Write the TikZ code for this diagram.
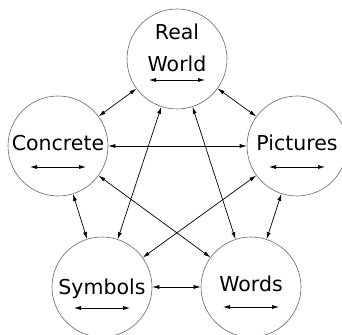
\documentclass[tikz,border=0pt]{standalone}
\usepackage{fontspec}
\setmainfont{DejaVu Sans}
\usepackage{tikz}
\usetikzlibrary{arrows.meta,calc,positioning}

\begin{document}
\begin{tikzpicture}[x=1pt,y=1pt,
  cerchio/.style={circle, draw=black!60, line width=0.6pt, minimum size=100pt, inner sep=0pt},
  freccia/.style={{Latex[length=7pt,width=4pt]}-{Latex[length=7pt,width=4pt]}, line width=0.7pt},
  testo/.style={font=\fontsize{20.5}{24}\selectfont, anchor=base, inner sep=0pt}]
\useasboundingbox (0,0) rectangle (342,334);
% Cerchi
\node[cerchio] (real) at (177,275) {};
\node[cerchio] (conc) at (58,188) {};
\node[cerchio] (pict) at (297,188) {};
\node[cerchio] (symb) at (102,47) {};
\node[cerchio] (word) at (251,47) {};
% Testi
\node[testo] (realtxt) at ($(real)+(0,19)$) {Real};
\node[testo] (worldtxt) at ($(real)+(0,-13)$) {World};
\node[testo] (conctxt) at ($(conc)+(0,-5)$) {Concrete};
\node[testo] (picttxt) at ($(pict)+(0,-5)$) {Pictures};
\node[testo] (symbtxt) at ($(symb)+(0,-8)$) {Symbols};
\node[testo] (wordtxt) at ($(word)+(0,-5)$) {Words};
% Frecce interne
\draw[freccia] ($(real)+(-28,-21)$) -- ($(real)+(28,-21)$);
\draw[freccia] ($(conc)+(-28,-21)$) -- ($(conc)+(28,-21)$);
\draw[freccia] ($(pict)+(-28,-21)$) -- ($(pict)+(28,-21)$);
\draw[freccia] ($(symb)+(-28,-21)$) -- ($(symb)+(28,-21)$);
\draw[freccia] ($(word)+(-28,-20)$) -- ($(word)+(28,-20)$);
% Collegamenti
\draw[freccia] (real) -- (conc);
\draw[freccia] (real) -- (pict);
\draw[freccia] (real) -- (symb);
\draw[freccia] (real) -- (word);
\draw[freccia] (conc) -- (pict);
\draw[freccia] (conc) -- (symb);
\draw[freccia] (conc) -- (word);
\draw[freccia] (pict) -- (symb);
\draw[freccia] (pict) -- (word);
\draw[freccia] (symb) -- (word);
\end{tikzpicture}
\end{document}
